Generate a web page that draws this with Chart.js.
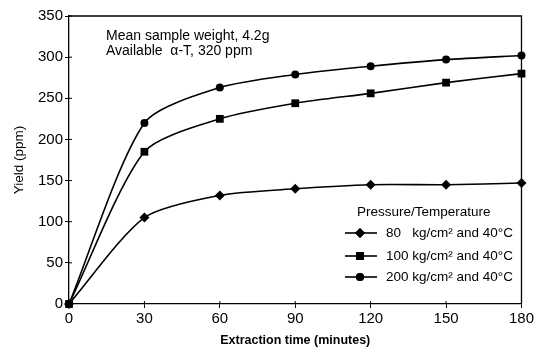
<!DOCTYPE html>
<html>
<head>
<meta charset="utf-8">
<script src="https://cdn.jsdelivr.net/npm/chart.js@4"></script>
<style>
  html, body { margin: 0; padding: 0; background: #fff; }
  #wrap { width: 536px; height: 350px; }
</style>
</head>
<body>
<div id="wrap"><canvas id="chart" width="536" height="350"></canvas></div>
<script>
// Extraction times (minutes)
const times = [0, 30, 60, 90, 120, 150, 180];

// Yield (ppm) for each pressure at 40°C
const yield80 = [0, 105, 132, 140, 145, 145, 147];
const yield100 = [0, 185, 225, 244, 256, 269, 280];
const yield200 = [0, 220, 263, 279, 289, 297, 302];

const seriesLabels = [
    '80   kg/cm² and 40°C',
    '100 kg/cm² and 40°C',
    '200 kg/cm² and 40°C'
];
const legendTitle = 'Pressure/Temperature';
const noteLines = ['Mean sample weight, 4.2g', 'Available  α-T, 320 ppm'];

const FONT = 'Liberation Sans, Arial, sans-serif';

function toPoints(values) {
    return times.map((t, i) => ({ x: t, y: values[i] }));
}

function makeSet(label, values, style, radius) {
    return {
        label: label,
        data: toPoints(values),
        borderColor: '#000',
        backgroundColor: '#000',
        borderWidth: 1.6,
        pointStyle: style,
        pointRadius: radius,
        pointBorderWidth: 0,
        tension: 0.25,
        clip: false
    };
}

// Box around plot area, inner tick halves, notes and legend
const framePlugin = {
    id: 'frame',
    afterDraw(chart) {
        const { ctx, chartArea: a, scales } = chart;
        ctx.save();
        ctx.strokeStyle = '#000';
        ctx.lineWidth = 1.3;
        ctx.beginPath();
        ctx.moveTo(a.left, a.top);
        ctx.lineTo(a.right, a.top);
        ctx.lineTo(a.right, a.bottom);
        ctx.stroke();

        ctx.lineWidth = 1;
        ctx.beginPath();
        scales.x.ticks.forEach(t => {
            const px = scales.x.getPixelForValue(t.value);
            ctx.moveTo(px, a.bottom);
            ctx.lineTo(px, a.bottom - 3);
        });
        scales.y.ticks.forEach(t => {
            const py = scales.y.getPixelForValue(t.value);
            ctx.moveTo(a.left, py);
            ctx.lineTo(a.left + 3, py);
        });
        ctx.stroke();

        // notes
        ctx.fillStyle = '#000';
        ctx.font = '14px ' + FONT;
        ctx.textBaseline = 'middle';
        ctx.textAlign = 'left';
        ctx.fillText(noteLines[0], 106, 36);
        ctx.fillText(noteLines[1], 106, 51);

        // legend
        ctx.font = '13.5px ' + FONT;
        ctx.fillText(legendTitle, 357, 212);
        const rows = [233, 256, 277];
        chart.data.datasets.forEach((ds, i) => {
            const y = rows[i];
            ctx.lineWidth = 1.6;
            ctx.beginPath();
            ctx.moveTo(345, y);
            ctx.lineTo(377, y);
            ctx.stroke();
            Chart.helpers.drawPoint(ctx, {
                pointStyle: ds.pointStyle,
                radius: ds.pointRadius,
                borderWidth: 0
            }, 360, y);
            ctx.fill();
            ctx.fillText(ds.label, 386, y);
        });
        ctx.restore();
    }
};

new Chart(document.getElementById('chart'), {
    type: 'line',
    data: {
        datasets: [
            makeSet(seriesLabels[0], yield80, 'rectRot', 5),
            makeSet(seriesLabels[1], yield100, 'rect', 5.5),
            makeSet(seriesLabels[2], yield200, 'circle', 4)
        ]
    },
    options: {
        responsive: false,
        animation: false,
        layout: { padding: { left: 0, top: 16, right: 12, bottom: 0 } },
        plugins: {
            legend: { display: false },
            tooltip: { enabled: false }
        },
        scales: {
            x: {
                type: 'linear',
                min: 0,
                max: 180,
                afterFit(s) { s.height = 46; },
                ticks: {
                    stepSize: 30,
                    color: '#000',
                    font: { family: FONT, size: 15 },
                    padding: 2,
                    maxRotation: 0
                },
                grid: {
                    drawOnChartArea: false,
                    tickLength: 4,
                    color: '#000'
                },
                border: { color: '#000', width: 1.3 },
                title: {
                    display: true,
                    text: 'Extraction time (minutes)',
                    color: '#000',
                    font: { family: FONT, size: 12.5, weight: 'bold' },
                    padding: { top: 3, bottom: 2 }
                }
            },
            y: {
                min: 0,
                max: 350,
                afterFit(s) { s.width = 69; },
                ticks: {
                    stepSize: 50,
                    color: '#000',
                    font: { family: FONT, size: 15 },
                    padding: 2
                },
                grid: {
                    drawOnChartArea: false,
                    tickLength: 4,
                    color: '#000'
                },
                border: { color: '#000', width: 1.3 },
                title: {
                    display: true,
                    text: 'Yield (ppm)',
                    color: '#000',
                    font: { family: FONT, size: 13.5 },
                    padding: { top: 11, bottom: 4 }
                }
            }
        }
    },
    plugins: [framePlugin]
});
</script>
</body>
</html>
